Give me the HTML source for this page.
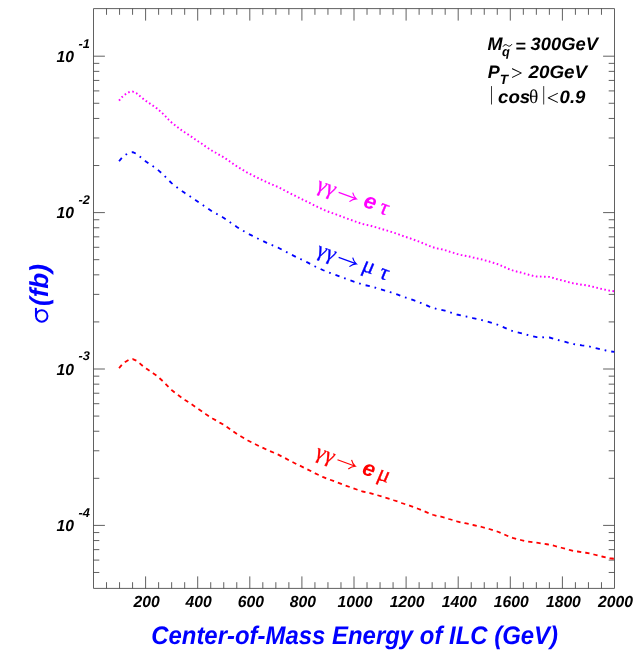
<!DOCTYPE html>
<html><head><meta charset="utf-8"><title>chart</title>
<style>
html,body{margin:0;padding:0;background:#fff;}
body{width:639px;height:661px;overflow:hidden;font-family:"Liberation Sans",sans-serif;}
svg{display:block;will-change:transform;filter:opacity(1);}
text{text-rendering:geometricPrecision;}
.bi{font-family:"Liberation Sans",sans-serif;font-weight:bold;font-style:italic;}
.sy{font-family:"Liberation Serif",serif;font-weight:normal;font-style:normal;}
</style></head><body>
<svg width="639" height="661" viewBox="0 0 639 661">
<rect x="0" y="0" width="639" height="661" fill="#ffffff"/>

<g stroke="#444" stroke-width="0.85" fill="none">
<path d="M93.50,8.60 H614.50 V588.40 H93.50 Z"/>
<path d="M106.53,588.40 v-6.20 M106.53,8.60 v6.20 M119.55,588.40 v-6.20 M119.55,8.60 v6.20 M132.57,588.40 v-6.20 M132.57,8.60 v6.20 M145.60,588.40 v-12.00 M145.60,8.60 v12.00 M158.62,588.40 v-6.20 M158.62,8.60 v6.20 M171.65,588.40 v-6.20 M171.65,8.60 v6.20 M184.68,588.40 v-6.20 M184.68,8.60 v6.20 M197.70,588.40 v-12.00 M197.70,8.60 v12.00 M210.72,588.40 v-6.20 M210.72,8.60 v6.20 M223.75,588.40 v-6.20 M223.75,8.60 v6.20 M236.78,588.40 v-6.20 M236.78,8.60 v6.20 M249.80,588.40 v-12.00 M249.80,8.60 v12.00 M262.82,588.40 v-6.20 M262.82,8.60 v6.20 M275.85,588.40 v-6.20 M275.85,8.60 v6.20 M288.88,588.40 v-6.20 M288.88,8.60 v6.20 M301.90,588.40 v-12.00 M301.90,8.60 v12.00 M314.93,588.40 v-6.20 M314.93,8.60 v6.20 M327.95,588.40 v-6.20 M327.95,8.60 v6.20 M340.98,588.40 v-6.20 M340.98,8.60 v6.20 M354.00,588.40 v-12.00 M354.00,8.60 v12.00 M367.02,588.40 v-6.20 M367.02,8.60 v6.20 M380.05,588.40 v-6.20 M380.05,8.60 v6.20 M393.07,588.40 v-6.20 M393.07,8.60 v6.20 M406.10,588.40 v-12.00 M406.10,8.60 v12.00 M419.12,588.40 v-6.20 M419.12,8.60 v6.20 M432.15,588.40 v-6.20 M432.15,8.60 v6.20 M445.18,588.40 v-6.20 M445.18,8.60 v6.20 M458.20,588.40 v-12.00 M458.20,8.60 v12.00 M471.23,588.40 v-6.20 M471.23,8.60 v6.20 M484.25,588.40 v-6.20 M484.25,8.60 v6.20 M497.27,588.40 v-6.20 M497.27,8.60 v6.20 M510.30,588.40 v-12.00 M510.30,8.60 v12.00 M523.33,588.40 v-6.20 M523.33,8.60 v6.20 M536.35,588.40 v-6.20 M536.35,8.60 v6.20 M549.38,588.40 v-6.20 M549.38,8.60 v6.20 M562.40,588.40 v-12.00 M562.40,8.60 v12.00 M575.42,588.40 v-6.20 M575.42,8.60 v6.20 M588.45,588.40 v-6.20 M588.45,8.60 v6.20 M601.48,588.40 v-6.20 M601.48,8.60 v6.20 M93.50,572.48 h5.80 M614.50,572.48 h-5.80 M93.50,560.10 h5.80 M614.50,560.10 h-5.80 M93.50,549.63 h5.80 M614.50,549.63 h-5.80 M93.50,540.56 h5.80 M614.50,540.56 h-5.80 M93.50,532.56 h5.80 M614.50,532.56 h-5.80 M93.50,525.40 h11.40 M614.50,525.40 h-11.40 M93.50,478.32 h5.80 M614.50,478.32 h-5.80 M93.50,450.78 h5.80 M614.50,450.78 h-5.80 M93.50,431.24 h5.80 M614.50,431.24 h-5.80 M93.50,416.08 h5.80 M614.50,416.08 h-5.80 M93.50,403.70 h5.80 M614.50,403.70 h-5.80 M93.50,393.23 h5.80 M614.50,393.23 h-5.80 M93.50,384.16 h5.80 M614.50,384.16 h-5.80 M93.50,376.16 h5.80 M614.50,376.16 h-5.80 M93.50,369.00 h11.40 M614.50,369.00 h-11.40 M93.50,321.92 h5.80 M614.50,321.92 h-5.80 M93.50,294.38 h5.80 M614.50,294.38 h-5.80 M93.50,274.84 h5.80 M614.50,274.84 h-5.80 M93.50,259.68 h5.80 M614.50,259.68 h-5.80 M93.50,247.30 h5.80 M614.50,247.30 h-5.80 M93.50,236.83 h5.80 M614.50,236.83 h-5.80 M93.50,227.76 h5.80 M614.50,227.76 h-5.80 M93.50,219.76 h5.80 M614.50,219.76 h-5.80 M93.50,212.60 h11.40 M614.50,212.60 h-11.40 M93.50,165.52 h5.80 M614.50,165.52 h-5.80 M93.50,137.98 h5.80 M614.50,137.98 h-5.80 M93.50,118.44 h5.80 M614.50,118.44 h-5.80 M93.50,103.28 h5.80 M614.50,103.28 h-5.80 M93.50,90.90 h5.80 M614.50,90.90 h-5.80 M93.50,80.43 h5.80 M614.50,80.43 h-5.80 M93.50,71.36 h5.80 M614.50,71.36 h-5.80 M93.50,63.36 h5.80 M614.50,63.36 h-5.80 M93.50,56.20 h11.40 M614.50,56.20 h-11.40"/>
</g>
<g fill="#000">
<text class="bi" transform="translate(146.60,606.90) scale(1.020,1.040)" font-size="15.40" text-anchor="middle">200</text>
<text class="bi" transform="translate(198.70,606.90) scale(1.020,1.040)" font-size="15.40" text-anchor="middle">400</text>
<text class="bi" transform="translate(250.80,606.90) scale(1.020,1.040)" font-size="15.40" text-anchor="middle">600</text>
<text class="bi" transform="translate(302.90,606.90) scale(1.020,1.040)" font-size="15.40" text-anchor="middle">800</text>
<text class="bi" transform="translate(355.00,606.90) scale(1.020,1.040)" font-size="15.40" text-anchor="middle">1000</text>
<text class="bi" transform="translate(407.10,606.90) scale(1.020,1.040)" font-size="15.40" text-anchor="middle">1200</text>
<text class="bi" transform="translate(459.20,606.90) scale(1.020,1.040)" font-size="15.40" text-anchor="middle">1400</text>
<text class="bi" transform="translate(511.30,606.90) scale(1.020,1.040)" font-size="15.40" text-anchor="middle">1600</text>
<text class="bi" transform="translate(563.40,606.90) scale(1.020,1.040)" font-size="15.40" text-anchor="middle">1800</text>
<text class="bi" transform="translate(615.50,606.90) scale(1.020,1.040)" font-size="15.40" text-anchor="middle">2000</text>
</g>
<g fill="#000">
<text class="bi" transform="translate(56.40,61.80) scale(1.020,1.040)" font-size="15.40" text-anchor="start">10</text>
<text class="bi" transform="translate(78.60,47.60) scale(1.050,1.040)" font-size="12.20" text-anchor="start">-1</text>
<text class="bi" transform="translate(56.40,218.20) scale(1.020,1.040)" font-size="15.40" text-anchor="start">10</text>
<text class="bi" transform="translate(78.60,204.00) scale(1.050,1.040)" font-size="12.20" text-anchor="start">-2</text>
<text class="bi" transform="translate(56.40,374.60) scale(1.020,1.040)" font-size="15.40" text-anchor="start">10</text>
<text class="bi" transform="translate(78.60,360.40) scale(1.050,1.040)" font-size="12.20" text-anchor="start">-3</text>
<text class="bi" transform="translate(56.40,531.00) scale(1.020,1.040)" font-size="15.40" text-anchor="start">10</text>
<text class="bi" transform="translate(78.60,516.80) scale(1.050,1.040)" font-size="12.20" text-anchor="start">-4</text>
</g>
<path d="M119.05,100.65 L122.10,97.00 L125.25,94.40 L128.75,92.30 L132.75,91.60 L136.50,93.25 L139.75,95.90 L142.90,98.60 L146.25,101.10 L149.60,103.40 L153.10,105.75 L156.50,108.10 L159.60,110.75 L162.75,113.60 L165.75,116.60 L168.60,119.60 L171.60,122.50 L174.75,125.00 L178.10,127.60 L181.50,130.10 L185.00,132.50 L188.50,134.75 L192.00,137.10 L195.40,139.50 L198.75,141.75 L202.25,144.00 L205.60,146.50 L209.00,148.75 L212.50,151.00 L216.25,153.00 L219.75,155.10 L223.50,157.10 L227.00,159.50 L230.40,161.90 L233.75,164.25 L237.25,166.60 L240.75,168.75 L244.40,170.90 L247.90,173.00 L251.60,174.85 L255.40,176.70 L259.10,178.60 L263.00,180.40 L266.75,182.25 L270.60,183.90 L274.50,185.50 L278.25,187.10 L282.00,189.10 L285.60,190.90 L289.25,193.00 L292.90,194.75 L296.60,196.60 L300.40,198.40 L304.10,200.25 L307.90,202.10 L311.60,204.00 L315.25,205.90 L319.00,207.60 L322.75,209.40 L326.70,211.10 L335.00,214.00 L342.50,216.90 L350.00,219.60 L357.50,222.25 L362.50,224.00 L370.00,225.60 L377.50,227.75 L385.00,230.00 L390.00,231.40 L393.75,232.75 L397.75,234.00 L401.60,235.50 L405.60,236.90 L409.50,238.10 L413.50,239.60 L417.40,241.00 L421.25,242.50 L425.10,244.10 L428.90,245.75 L432.90,247.25 L436.90,248.40 L440.90,249.10 L444.90,250.10 L448.90,251.50 L452.90,252.60 L456.90,253.90 L460.90,254.90 L465.00,255.70 L469.00,256.45 L473.10,257.50 L477.10,258.40 L481.10,259.25 L485.10,260.40 L489.25,261.50 L493.25,262.75 L497.25,264.00 L501.10,265.60 L504.90,267.25 L508.75,269.00 L512.60,270.40 L516.60,271.50 L520.75,272.50 L524.75,273.60 L528.75,274.75 L532.75,275.75 L536.75,276.55 L541.00,276.60 L545.25,276.75 L549.40,276.90 L553.40,278.00 L557.40,279.25 L561.40,280.25 L565.40,281.25 L569.40,282.40 L573.50,283.40 L577.60,284.00 L581.75,284.75 L585.75,285.25 L589.90,286.00 L593.90,287.00 L597.90,288.00 L601.90,289.00 L605.90,289.90 L610.00,290.75 L614.30,291.30" fill="none" stroke="#ff00ff" stroke-width="1.95" stroke-dasharray="1.6 2.52" stroke-linejoin="round"/>
<path d="M119.05,161.25 L122.10,157.60 L125.25,155.00 L128.75,152.90 L132.75,152.20 L136.50,153.85 L139.75,156.50 L142.90,159.20 L146.25,161.70 L149.60,164.00 L153.10,166.35 L156.50,168.70 L159.60,171.35 L162.75,174.20 L165.75,177.20 L168.60,180.20 L171.60,183.10 L174.75,185.60 L178.10,188.20 L181.50,190.70 L185.00,193.10 L188.50,195.35 L192.00,197.70 L195.40,200.10 L198.75,202.35 L202.25,204.60 L205.60,207.10 L209.00,209.35 L212.50,211.60 L216.25,213.60 L219.75,215.70 L223.50,217.70 L227.00,220.10 L230.40,222.50 L233.75,224.85 L237.25,227.20 L240.75,229.35 L244.40,231.50 L247.90,233.60 L251.60,235.45 L255.40,237.30 L259.10,239.20 L263.00,241.00 L266.75,242.85 L270.60,244.50 L274.50,246.10 L278.25,247.70 L282.00,249.70 L285.60,251.50 L289.25,253.60 L292.90,255.35 L296.60,257.20 L300.40,259.00 L304.10,260.85 L307.90,262.70 L311.60,264.60 L315.25,266.50 L319.00,268.20 L322.75,270.00 L326.70,271.70 L335.00,274.60 L342.50,277.50 L350.00,280.20 L357.50,282.85 L362.50,284.60 L370.00,286.20 L377.50,288.35 L385.00,290.60 L390.00,292.00 L393.75,293.35 L397.75,294.60 L401.60,296.10 L405.60,297.50 L409.50,298.70 L413.50,300.20 L417.40,301.60 L421.25,303.10 L425.10,304.70 L428.90,306.35 L432.90,307.85 L436.90,309.00 L440.90,309.70 L444.90,310.70 L448.90,312.10 L452.90,313.20 L456.90,314.50 L460.90,315.50 L465.00,316.30 L469.00,317.05 L473.10,318.10 L477.10,319.00 L481.10,319.85 L485.10,321.00 L489.25,322.10 L493.25,323.35 L497.25,324.60 L501.10,326.20 L504.90,327.85 L508.75,329.60 L512.60,331.00 L516.60,332.10 L520.75,333.10 L524.75,334.20 L528.75,335.35 L532.75,336.35 L536.75,337.15 L541.00,337.20 L545.25,337.35 L549.40,337.50 L553.40,338.60 L557.40,339.85 L561.40,340.85 L565.40,341.85 L569.40,343.00 L573.50,344.00 L577.60,344.60 L581.75,345.35 L585.75,345.85 L589.90,346.60 L593.90,347.60 L597.90,348.60 L601.90,349.60 L605.90,350.50 L610.00,351.35 L614.30,351.90" fill="none" stroke="#0000ff" stroke-width="1.85" stroke-dasharray="4.3 4.93 1.7 5.03" stroke-linejoin="round"/>
<path d="M119.05,368.15 L122.10,364.50 L125.25,361.90 L128.75,359.80 L132.75,359.10 L136.50,360.75 L139.75,363.40 L142.90,366.10 L146.25,368.60 L149.60,370.90 L153.10,373.25 L156.50,375.60 L159.60,378.25 L162.75,381.10 L165.75,384.10 L168.60,387.10 L171.60,390.00 L174.75,392.50 L178.10,395.10 L181.50,397.60 L185.00,400.00 L188.50,402.25 L192.00,404.60 L195.40,407.00 L198.75,409.25 L202.25,411.50 L205.60,414.00 L209.00,416.25 L212.50,418.50 L216.25,420.50 L219.75,422.60 L223.50,424.60 L227.00,427.00 L230.40,429.40 L233.75,431.75 L237.25,434.10 L240.75,436.25 L244.40,438.40 L247.90,440.50 L251.60,442.35 L255.40,444.20 L259.10,446.10 L263.00,447.90 L266.75,449.75 L270.60,451.40 L274.50,453.00 L278.25,454.60 L282.00,456.60 L285.60,458.40 L289.25,460.50 L292.90,462.25 L296.60,464.10 L300.40,465.90 L304.10,467.75 L307.90,469.60 L311.60,471.50 L315.25,473.40 L319.00,475.10 L322.75,476.90 L326.70,478.60 L335.00,481.50 L342.50,484.40 L350.00,487.10 L357.50,489.75 L362.50,491.50 L370.00,493.10 L377.50,495.25 L385.00,497.50 L390.00,498.90 L393.75,500.25 L397.75,501.50 L401.60,503.00 L405.60,504.40 L409.50,505.60 L413.50,507.10 L417.40,508.50 L421.25,510.00 L425.10,511.60 L428.90,513.25 L432.90,514.75 L436.90,515.90 L440.90,516.60 L444.90,517.60 L448.90,519.00 L452.90,520.10 L456.90,521.40 L460.90,522.40 L465.00,523.20 L469.00,523.95 L473.10,525.00 L477.10,525.90 L481.10,526.75 L485.10,527.90 L489.25,529.00 L493.25,530.25 L497.25,531.50 L501.10,533.10 L504.90,534.75 L508.75,536.50 L512.60,537.90 L516.60,539.00 L520.75,540.00 L524.75,541.10 L530.25,541.90 L538.10,542.90 L546.90,544.25 L553.40,545.50 L557.40,546.75 L561.40,547.75 L565.40,548.75 L569.40,549.90 L573.50,550.90 L577.60,551.50 L581.75,552.25 L585.75,552.75 L589.90,553.50 L593.90,554.50 L597.90,555.50 L601.90,556.50 L605.90,557.40 L610.00,558.25 L614.30,558.80" fill="none" stroke="#ff0000" stroke-width="1.8" stroke-dasharray="4.3 4.02" stroke-linejoin="round"/>
<text class="bi" transform="translate(151.20,644.00) scale(0.997,1.060)" font-size="24.00" text-anchor="start" fill="#0000ff">Center-of-Mass Energy of ILC (GeV)</text>
<g transform="translate(48.3,324.2) rotate(-90)" fill="#0000ff"><text class="bi" x="18.2" y="0" font-size="26">(fb)</text></g>
<g fill="none" stroke="#0000ff"><circle cx="41.75" cy="315.95" r="5.75" stroke-width="1.9"/><path d="M35.95,316.6 V307.9" stroke-width="2.0"/></g>
<g fill="#000">
<text class="bi" transform="translate(487.60,49.90) scale(1.000,1.000)" font-size="18.00" text-anchor="start">M</text>
<text class="bi" transform="translate(502.00,55.90) scale(1.000,1.000)" font-size="12.80" text-anchor="start">q</text>
<path d="M503.0,46.7 C504.3,44.3 505.9,44.2 507.4,45.4 C508.9,46.6 510.5,46.5 511.9,44.2" fill="none" stroke="#000" stroke-width="1"/>
<text class="bi" transform="translate(515.20,51.50) scale(1.000,1.000)" font-size="18.00" text-anchor="start">=</text>
<text class="bi" transform="translate(530.60,49.90) scale(1.020,1.000)" font-size="18.00" text-anchor="start">300GeV</text>
<text class="bi" transform="translate(487.80,78.00) scale(1.000,1.000)" font-size="18.00" text-anchor="start">P</text>
<text class="bi" transform="translate(499.80,84.10) scale(1.000,1.000)" font-size="13.60" text-anchor="start">T</text>
<text class="sy" transform="translate(511.00,79.60) scale(1.000,1.000)" font-size="20.80" text-anchor="start">&gt;</text>
<text class="bi" transform="translate(528.50,78.00) scale(1.045,1.000)" font-size="18.00" text-anchor="start">20GeV</text>
<path d="M491.5,86.1 V104.5 M543.7,86.1 V104.5" stroke="#222" stroke-width="0.9"/>
<text class="bi" transform="translate(498.00,103.20) scale(1.040,1.000)" font-size="18.00" text-anchor="start">cos</text>
<text class="sy" transform="translate(529.00,103.40) scale(1.000,1.000)" font-size="19.50" text-anchor="start">θ</text>
<text class="sy" transform="translate(546.80,104.80) scale(1.000,1.000)" font-size="21.50" text-anchor="start">&lt;</text>
<text class="bi" transform="translate(559.60,103.20) scale(1.030,1.000)" font-size="18.00" text-anchor="start">0.9</text>
</g>
<g transform="translate(317.43,190.40) rotate(20)" fill="#ff00ff" stroke="none">
<g transform="translate(-2.3,0.1) skewX(-4.5)"><text class="sy" x="0" y="0" font-size="21.5" stroke="#ff00ff" stroke-width="0.3">γγ</text></g>
<path d="M20.6,-5.4 H38.8 M33.9,-10.0 Q36.0,-6.7 39.5,-5.4 Q36.0,-4.1 33.9,-0.4" fill="none" stroke="#ff00ff" stroke-width="1.15"/>
<text class="bi" x="47.6" y="-0.5" font-size="22" fill="#ff00ff">e</text>
<g transform="translate(64.2,0.05) skewX(-3)"><text class="sy" x="0" y="0" font-size="22.3" stroke="#ff00ff" stroke-width="0.35">τ</text></g>
</g>
<g transform="translate(317.43,255.40) rotate(20)" fill="#0000ff" stroke="none">
<g transform="translate(-2.3,0.1) skewX(-4.5)"><text class="sy" x="0" y="0" font-size="21.5" stroke="#0000ff" stroke-width="0.3">γγ</text></g>
<path d="M20.6,-5.4 H38.8 M33.9,-10.0 Q36.0,-6.7 39.5,-5.4 Q36.0,-4.1 33.9,-0.4" fill="none" stroke="#0000ff" stroke-width="1.15"/>
<g transform="translate(45.8,-0.8) skewX(-3)"><text class="sy" x="0" y="0" font-size="22.5" stroke="#0000ff" stroke-width="0.35">μ</text></g>
<g transform="translate(64.2,0.05) skewX(-3)"><text class="sy" x="0" y="0" font-size="22.3" stroke="#0000ff" stroke-width="0.35">τ</text></g>
</g>
<g transform="translate(316.30,457.80) rotate(20)" fill="#ff0000" stroke="none">
<g transform="translate(-2.3,0.1) skewX(-4.5)"><text class="sy" x="0" y="0" font-size="21.5" stroke="#ff0000" stroke-width="0.3">γγ</text></g>
<path d="M20.6,-5.4 H38.8 M33.9,-10.0 Q36.0,-6.7 39.5,-5.4 Q36.0,-4.1 33.9,-0.4" fill="none" stroke="#ff0000" stroke-width="1.15"/>
<text class="bi" x="47.3" y="-0.5" font-size="22" fill="#ff0000">e</text>
<g transform="translate(63.3,-0.8) skewX(-3)"><text class="sy" x="0" y="0" font-size="22.5" stroke="#ff0000" stroke-width="0.35">μ</text></g>
</g>
</svg></body></html>
